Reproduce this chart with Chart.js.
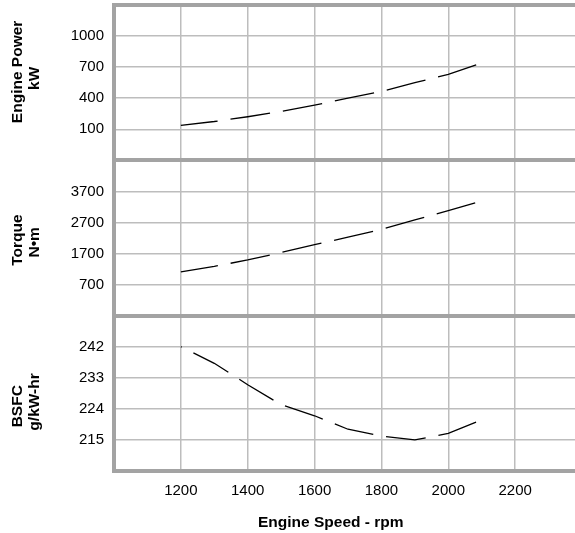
<!DOCTYPE html>
<html><head><meta charset="utf-8">
<script src="https://cdn.jsdelivr.net/npm/chart.js@4.4.1/dist/chart.umd.min.js"></script>
<style>
html,body{margin:0;padding:0;overflow:hidden;background:#fff;width:575px;height:533px}
#wrap{position:relative;width:582px;height:533px}
</style></head>
<body><div id="wrap"><canvas id="c" width="582" height="533"></canvas></div>
<script>
const speeds = [1200,1300,1400,1500,1600,1700,1800,1900,2000,2100];
const power  = [138,175,221,272,333,400,465,550,630,740];
const torque = [1110,1285,1495,1732,1985,2225,2480,2780,3080,3390];
const bsfc   = [242,237.2,231,225.2,222,218.1,216.1,215,216.9,220.8];
const xTicks = [1000,1200,1400,1600,1800,2000,2200,2400];
const powerTicks  = [-200,100,400,700,1000,1300];
const torqueTicks = [-300,700,1700,2700,3700,4700];
const bsfcTicks   = [206,215,224,233,242,251];

Chart.defaults.font.family = "'Liberation Sans', Arial, sans-serif";
Chart.defaults.font.size = 15;
Chart.defaults.color = '#000';

const BORDER = '#a3a3a3', GRID = '#bdbdbd';
const titleFont = { weight: 'bold', size: 15.5, lineHeight: 1.1 };

function yAxis(ticksArr, title, min, max) {
  const last = ticksArr.length - 1;
  return {
    type: 'linear', position: 'left', stack: 'panels', stackWeight: 1,
    min: min, max: max,
    afterBuildTicks: s => { s.ticks = ticksArr.map(v => ({value: v})); },
    afterFit: s => { s.width = 114; s.paddingTop = 0; s.paddingBottom = 0; },
    ticks: {
      padding: 10, autoSkip: false,
      callback: (v, i) => (i === 0 || i === last) ? '' : String(v)
    },
    grid: {
      drawTicks: false,
      color: c => (c.index === 0 || c.index === last) ? BORDER : GRID,
      lineWidth: c => (c.index === 0 || c.index === last) ? 4 : 1.5
    },
    border: { display: true, color: BORDER, width: 4 },
    title: {
      display: true, text: title, font: titleFont,
      padding: { top: 9, bottom: 0 }
    }
  };
}

function series(data, axis, offset) {
  return {
    data: speeds.map((s, i) => ({x: s, y: data[i]})),
    yAxisID: axis,
    borderColor: '#000', borderWidth: 1.3,
    borderDash: [40, 13], borderDashOffset: offset,
    pointRadius: 0, fill: false, tension: 0
  };
}

new Chart(document.getElementById('c'), {
  type: 'line',
  data: { datasets: [
    series(power, 'yPower', 3),
    series(torque, 'yTorque', 2.5),
    series(bsfc, 'yBsfc', 39)
  ]},
  options: {
    responsive: false, animation: false,
    layout: { padding: { top: 5, left: 0, right: 0, bottom: 0 } },
    plugins: { legend: { display: false }, tooltip: { enabled: false } },
    scales: {
      x: {
        type: 'linear', position: 'bottom', min: 1000, max: 2400,
        afterBuildTicks: s => { s.ticks = xTicks.map(v => ({value: v})); },
        afterFit: s => { s.height = 62; s.paddingLeft = 0; s.paddingRight = 0; },
        ticks: { padding: 11, autoSkip: false, maxRotation: 0,
                 callback: (v) => (v === 1000 || v === 2400) ? '' : String(v) },
        grid: { drawTicks: false, color: GRID, lineWidth: 1.5 },
        border: { display: true, color: BORDER, width: 4 },
        title: {
          display: true, text: 'Engine Speed - rpm        ', font: titleFont,
          padding: { top: 0, bottom: 2 }
        }
      },
      yBsfc: yAxis(bsfcTicks, ['BSFC      ', 'g/kW-hr    '], 206, 251),
      yTorque: yAxis(torqueTicks, ['Torque ', 'N•m  '], -300, 4700),
      yPower: yAxis(powerTicks, ['     Engine Power', '  kW'], -200, 1300)
    }
  }
});
</script>
</body></html>
